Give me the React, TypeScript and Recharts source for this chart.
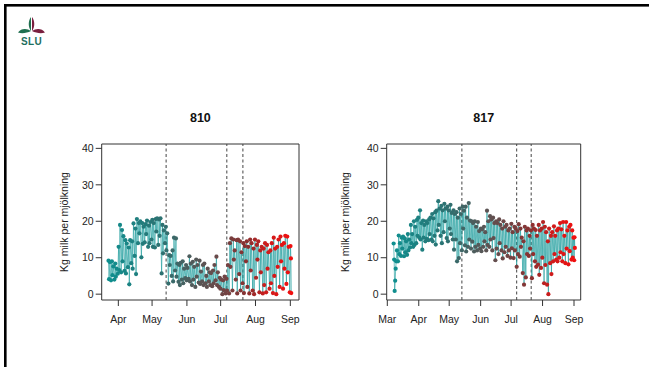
import React from 'react';
import { LineChart, Line, XAxis, YAxis, ReferenceLine, ReferenceArea } from 'recharts';

// ---------- data ----------
const monthTicks810 = [91, 121, 152, 182, 213, 244];
const monthLabels810 = ['Apr', 'May', 'Jun', 'Jul', 'Aug', 'Sep'];
const monthTicks817 = [60, 91, 121, 152, 182, 213, 244];
const monthLabels817 = ['Mar', 'Apr', 'May', 'Jun', 'Jul', 'Aug', 'Sep'];
const yTicks = [0, 10, 20, 30, 40];
const phaseLines = [133.5, 187.5, 201.8];

// cow 810: kg per milking, one row per day starting at day-of-year 82 (Mar 23)
const firstDay810 = 82;
const milk810: number[][] = [
  [9.2, 4.1], [8.8], [3.8], [9.0, 5.2], [7.6], [4.0], [8.4, 4.8], [7.0], [5.6],
  [13.0, 6.6], [19.0], [6.0], [17.6, 9.0], [15.9], [6.4], [14.8, 5.7], [13.9], [7.4],
  [12.8, 2.7], [14.8], [8.5], [14.5, 7.0], [19.4], [10.5], [18.0, 5.5], [20.6], [14.0],
  [19.5, 16.7], [20.0], [10.1], [19.5, 13.8], [18.5], [14.2], [19.2, 16.5], [20.2], [13.0],
  [18.8, 14.0], [19.8], [15.0], [20.4, 13.0], [19.5], [12.8], [20.6, 17.2], [20.8], [13.5],
  [20.5, 16.0], [20.8], [5.7], [19.0, 11.2], [17.5], [14.0], [18.5, 12.0], [16.7], [2.9],
  [10.7, 8.0], [10.5], [5.0], [12.0, 3.5], [15.5], [6.5], [15.3, 4.8], [8.4], [3.4],
  [8.0, 2.5], [8.6], [4.0], [9.0, 3.0], [7.0], [4.4], [8.0, 3.8], [7.2], [4.2],
  [10.4, 3.5], [8.4], [2.5], [8.9, 4.0], [7.5], [2.0], [9.5, 4.8], [8.0], [3.2],
  [9.2, 2.8], [6.2], [3.5], [8.0, 2.5], [8.4], [3.0], [5.0, 2.0], [7.0], [3.5],
  [6.0, 2.5], [5.8], [2.2], [6.5, 3.0], [8.0], [3.8], [10.3, 2.5], [6.0], [2.0],
  [4.5, 1.5], [4.0], [0.0], [3.8, 1.1], [4.8], [0.2], [4.2, 1.0], [8.0], [0.2],
  [14.0, 7.5], [15.3], [1.0], [15.0, 9.5], [12.0], [4.0], [14.8, 0.2], [15.0], [5.5],
  [14.5, 1.0], [11.5], [3.0], [14.0, 0.3], [13.2], [9.0], [14.5, 2.0], [13.0], [0.2],
  [15.0, 6.5], [14.0], [1.0], [12.5, 0.0], [15.0], [4.5], [13.5, 9.5], [14.5], [0.5],
  [12.0, 6.0], [13.0], [0.2], [12.5, 2.5], [14.0], [0.5], [13.5, 7.0], [11.5], [1.5],
  [12.0, 3.0], [14.0], [0.3], [15.5, 5.0], [12.5], [0.0], [13.0, 7.5], [15.0], [2.0],
  [15.8, 9.0], [13.5], [1.5], [14.0, 7.0], [16.0], [2.8], [15.8, 6.0], [13.0], [0.5],
  [13.2, 9.8, 0.3],
];

// cow 817: kg per milking, one row per day starting at day-of-year 66 (Mar 7)
const firstDay817 = 66;
const milk817: number[][] = [
  [13.9, 9.5], [0.9, 3.7], [7.0, 9.0], [12.0], [9.0], [16.1, 11.0], [14.0], [10.5], [15.5, 12.5],
  [15.8], [10.4], [15.3, 11.5], [14.5], [10.8], [16.5, 12.0], [15.0], [12.8], [19.0, 14.0],
  [16.5], [13.0], [20.0, 13.5], [18.5], [14.0], [20.4, 16.0], [21.0], [15.5], [23.0, 15.0],
  [19.5], [12.2], [20.2, 15.5], [19.0], [14.5], [20.0, 15.2], [19.5], [14.8], [20.5, 16.5],
  [21.0], [15.0], [22.0, 14.5], [20.8], [16.0], [22.5, 13.6], [22.9], [17.5], [25.5, 19.0],
  [23.5], [16.0], [24.2, 14.0], [23.0], [17.0], [24.8, 20.0], [23.5], [15.4], [24.0, 14.5],
  [23.0], [18.0], [24.5, 16.5], [22.3], [15.0], [23.0, 12.2], [22.0], [15.0], [22.5, 9.0],
  [21.0], [9.9], [23.5, 14.0], [22.0], [12.0], [24.0, 18.0], [22.9], [13.4], [24.0, 11.7],
  [21.0], [13.0], [25.0, 15.0], [20.2], [12.5], [20.0, 14.4], [19.5], [11.7], [20.0, 13.0],
  [18.5], [12.0], [19.8, 13.5], [17.3], [12.5], [18.0, 11.8], [17.8], [13.0], [18.5, 14.5],
  [17.0], [12.0], [22.9, 13.5], [20.0], [13.0], [21.4, 15.0], [20.5], [12.0], [21.0, 15.4],
  [19.5], [9.3], [20.0, 12.5], [19.5], [11.0], [20.5, 14.0], [19.0], [12.0], [18.0, 9.8],
  [20.0], [11.5], [18.5, 13.0], [19.0], [10.5], [17.5, 12.0], [18.0], [10.0], [19.3, 12.6],
  [17.0], [9.9], [18.5, 12.0], [18.0], [7.5], [17.3, 11.0], [19.2], [10.3], [18.0, 13.0],
  [15.5], [5.8], [14.5, 2.6], [18.5], [4.6], [17.5, 11.0], [18.0], [10.5], [16.0, 12.5],
  [17.5], [4.4], [19.0, 11.0], [18.0], [9.0], [17.6, 7.5], [16.0], [8.1], [19.0, 5.3],
  [17.5], [7.2], [18.0, 10.0], [19.8], [3.0], [18.5, 8.0], [17.0], [2.6], [14.5, 0.0],
  [18.0], [8.5], [16.0, 5.5], [17.0], [9.0], [18.6, 11.0], [16.0], [9.5], [17.5, 9.0],
  [18.0], [10.0], [19.5, 11.5], [17.8], [9.0], [19.8, 11.0], [16.0], [8.5], [19.8, 12.5],
  [17.5], [8.2], [18.5, 11.8], [19.0], [9.5], [17.5, 10.0], [15.5], [9.3, 15.6, 12.7],
];

// ---------- styling helpers ----------
const FONT = '"Liberation Sans", Arial, Helvetica, sans-serif';
const rampStops: [number, number[]][] = [
  [0.0, [15, 143, 143]],
  [0.3, [47, 112, 112]],
  [0.48, [85, 88, 88]],
  [0.62, [110, 70, 70]],
  [0.76, [138, 48, 48]],
  [0.86, [204, 28, 28]],
  [1.0, [240, 16, 16]],
];
function rampColor(f: number): string {
  const x = Math.max(0, Math.min(1, f));
  for (let i = 1; i < rampStops.length; i++) {
    const [f1, c1] = rampStops[i];
    const [f0, c0] = rampStops[i - 1];
    if (x <= f1) {
      const k = (x - f0) / (f1 - f0);
      const c = c0.map((v, j) => Math.round(v + (c1[j] - v) * k));
      return `rgb(${c[0]},${c[1]},${c[2]})`;
    }
  }
  return 'rgb(240,16,16)';
}

function toPoints(first: number, rows: number[][]) {
  const pts: { t: number; kg: number }[] = [];
  rows.forEach((vals, i) => {
    vals.forEach((v, j) => pts.push({ t: first + i + (j + 0.5) / vals.length, kg: v }));
  });
  return pts;
}

const pts810 = toPoints(firstDay810, milk810);
const pts817 = toPoints(firstDay817, milk817);

const Y_DOMAIN: [number, number] = [-1.6, 41.2];

type PanelProps = {
  data: { t: number; kg: number }[];
  ticks: number[];
  labels: string[];
  domain: [number, number];
  left: number;
  right: number;
};

function Panel({ data, ticks, labels, domain, left, right }: PanelProps) {
  const t0 = data[0].t;
  const t1 = data[data.length - 1].t;
  const dot = (props: any) => {
    const { cx, cy, payload, index } = props;
    if (cx == null || cy == null) return <g key={`e${index}`} />;
    return <circle key={`d${index}`} cx={cx} cy={cy} r={2.1} fill={rampColor((payload.t - t0) / (t1 - t0))} stroke="none" />;
  };
  return (
    <div style={{ position: 'absolute', left: 0, top: 0 }}>
      <LineChart width={649} height={367} data={data} margin={{ top: 144, right: right, bottom: 37, left: left }}>
        <XAxis
          dataKey="t"
          type="number"
          domain={domain}
          allowDataOverflow
          ticks={ticks}
          interval={0}
          tickFormatter={(v: number) => labels[ticks.indexOf(v)] ?? ''}
          axisLine={false}
          tickLine={{ stroke: '#333' }}
          tickSize={6}
          tickMargin={10}
          height={30}
          tick={{ fontSize: 10.5, fill: '#222', fontFamily: FONT }}
        />
        <YAxis
          type="number"
          domain={Y_DOMAIN}
          allowDataOverflow
          ticks={yTicks}
          interval={0}
          axisLine={false}
          tickLine={{ stroke: '#333' }}
          tickSize={6}
          tickMargin={2}
          width={40}
          tick={{ fontSize: 10.5, fill: '#222', fontFamily: FONT }}
        />
        <ReferenceArea x1={domain[0]} x2={domain[1]} y1={Y_DOMAIN[0]} y2={Y_DOMAIN[1]} fill="none" fillOpacity={0} stroke="#333" strokeWidth={1} />
        {phaseLines.map((x) => (
          <ReferenceLine key={x} x={x} stroke="#444" strokeDasharray="3 2.5" strokeWidth={1} />
        ))}
        <Line
          dataKey="kg"
          type="linear"
          stroke="#1c9c9c"
          strokeWidth={0.75}
          strokeOpacity={0.85}
          dot={dot}
          activeDot={false}
          isAnimationActive={false}
        />
      </LineChart>
    </div>
  );
}

export default function App() {
  return (
    <div style={{ position: 'absolute', left: 0, top: 0, width: 649, height: 367, background: '#fff', overflow: 'hidden', fontFamily: FONT }}>
      <Panel data={pts810} ticks={monthTicks810} labels={monthLabels810} domain={[76.2, 251.7]} left={61.7} right={350} />
      <Panel data={pts817} ticks={monthTicks817} labels={monthLabels817} domain={[59.4, 250.6]} left={346.7} right={68.3} />
      <svg width={649} height={367} style={{ position: 'absolute', left: 0, top: 0, pointerEvents: 'none' }}>
        {/* slide frame */}
        <rect x={4} y={4} width={645} height={2.6} fill="#000" />
        <rect x={4} y={4} width={2.6} height={363} fill="#000" />
        {/* SLU logo */}
        <path d="M31,17 C28,21 28,27 31,31 Z" fill="#1f6f4f" />
        <path d="M32,17 C35,21 35,27 32,31 Z" fill="#7a1f3f" />
        <path d="M31,31 C27,28 21,28 18,32.5 C22,34 27,33 31,31 Z" fill="#1f6f4f" />
        <path d="M32,31 C36,28 42,28 45,32.5 C41,34 36,33 32,31 Z" fill="#7a1f3f" />
        <text x={31.5} y={44.5} textAnchor="middle" fontFamily={FONT} fontWeight="bold" fontSize={10} fill="#1f6f5f" letterSpacing={0.4}>SLU</text>
        {/* titles */}
        <text x={200.4} y={122} textAnchor="middle" fontFamily={FONT} fontWeight="bold" fontSize={12.5} fill="#111">810</text>
        <text x={483.7} y={122} textAnchor="middle" fontFamily={FONT} fontWeight="bold" fontSize={12.5} fill="#111">817</text>
        {/* y axis titles */}
        <text transform="translate(67.5,222) rotate(-90)" textAnchor="middle" fontFamily={FONT} fontSize={10.5} fill="#222">Kg milk per mjölkning</text>
        <text transform="translate(348.5,222) rotate(-90)" textAnchor="middle" fontFamily={FONT} fontSize={10.5} fill="#222">Kg milk per mjölkning</text>
      </svg>
    </div>
  );
}
